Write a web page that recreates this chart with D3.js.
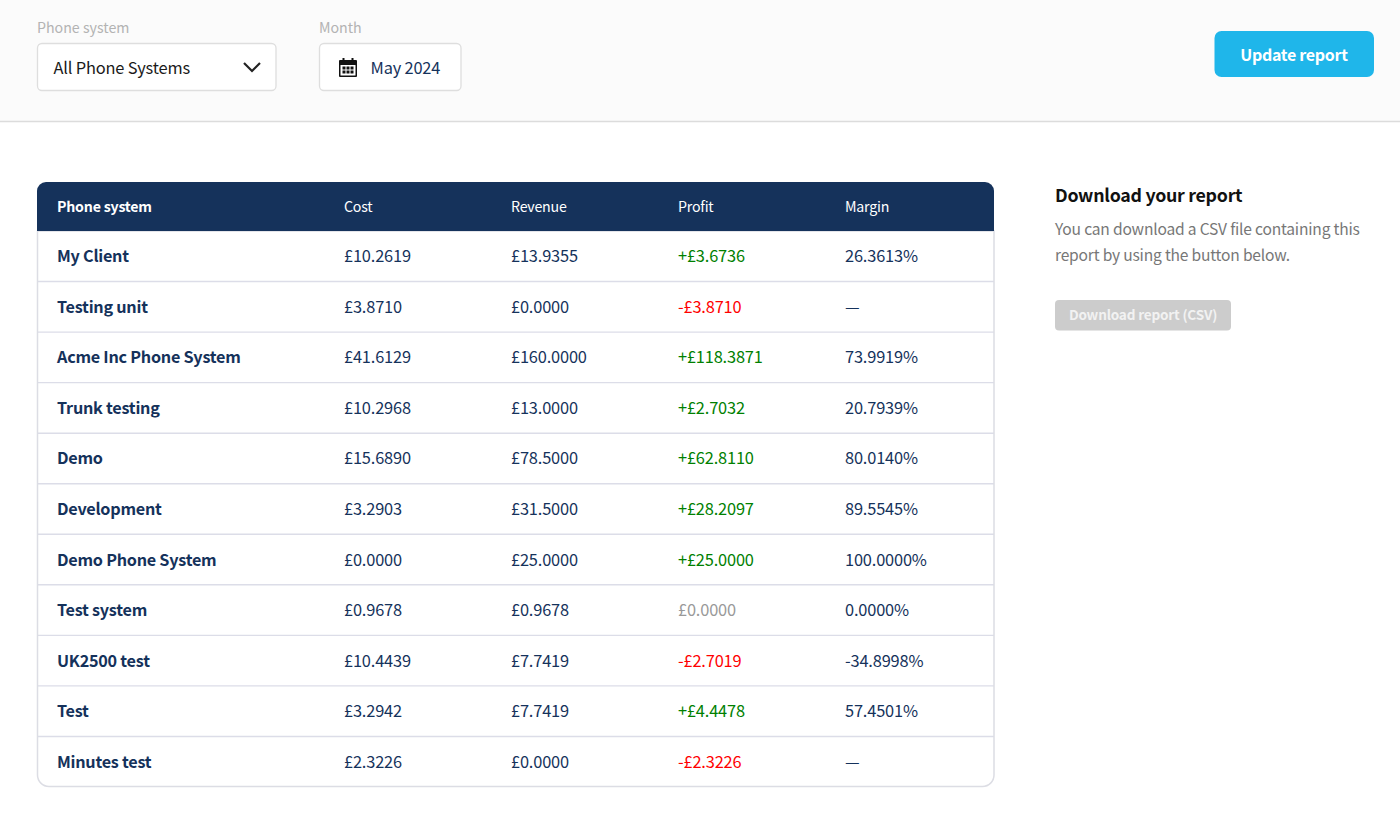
<!DOCTYPE html>
<html>
<head>
<meta charset="utf-8">
<script src="https://cdn.jsdelivr.net/npm/d3@7"></script>
<style>
  html, body { margin: 0; padding: 0; background: #fff; }
  svg { display: block; }
  text { font-family: "Noto Sans CJK SC", "Noto Sans", sans-serif; }
  .cell { font-size: 16.4px; letter-spacing: -0.18px; }
  .name { font-size: 16.2px; letter-spacing: -0.25px; font-weight: 700; }
  .head { font-size: 14.2px; letter-spacing: -0.22px; fill: #fff; }
</style>
</head>
<body>
<svg id="chart" width="1400" height="820"></svg>
<script>
// Data
const systems = ['My Client', 'Testing unit', 'Acme Inc Phone System', 'Trunk testing', 'Demo', 'Development',
  'Demo Phone System', 'Test system', 'UK2500 test', 'Test', 'Minutes test'];
const cost = [10.2619, 3.8710, 41.6129, 10.2968, 15.6890, 3.2903, 0, 0.9678, 10.4439, 3.2942, 2.3226];
const revenue = [13.9355, 0, 160, 13, 78.5, 31.5, 25, 0.9678, 7.7419, 7.7419, 0];
const profit = [3.6736, -3.8710, 118.3871, 2.7032, 62.8110, 28.2097, 25, 0, -2.7019, 4.4478, -2.3226];
const margin = [26.3613, null, 73.9919, 20.7939, 80.0140, 89.5545, 100, 0, -34.8998, 57.4501, null];
const columns = ['Phone system', 'Cost', 'Revenue', 'Profit', 'Margin'];

const navy = '#15325b';
const svg = d3.select('#chart');

const y = d3.scaleBand().domain(d3.range(systems.length)).range([231, 787]);
const x = d3.scaleOrdinal().domain(columns).range([57, 344, 511, 678, 845]);

const fmt = d3.formatLocale({ decimal: '.', thousands: ',', grouping: [3], currency: ['£', ''], minus: '-' }).format('.4f');
const money = v => '£' + fmt(Math.abs(v));
const signedMoney = v => v > 0 ? '+' + money(v) : v < 0 ? '-' + money(v) : money(v);
const percent = v => v === null ? '—' : fmt(v) + '%';
const profitColor = v => v > 0 ? '#008000' : v < 0 ? '#ff0000' : '#999999';

// top bar
svg.append('rect').attr('width', 1400).attr('height', 121.5).attr('fill', '#fbfbfb');
svg.append('line').attr('x1', 0).attr('x2', 1400).attr('y1', 121.5).attr('y2', 121.5)
  .attr('stroke', '#dcdcdc').attr('stroke-width', 1.4);

function label(txt, lx) {
  svg.append('text').attr('x', lx).attr('y', 32.5).attr('font-size', 14.2).attr('fill', '#b3b3b3').text(txt);
}
label('Phone system', 37);
label('Month', 319);

function inputBox(bx, w) {
  svg.append('rect').attr('x', bx + .5).attr('y', 43.5).attr('width', w).attr('height', 47).attr('rx', 4.5)
    .attr('fill', '#fff').attr('stroke', '#dedede').attr('stroke-width', 1.3);
}
inputBox(37, 238.5);
inputBox(319, 141.5);

svg.append('text').attr('class', 'cell').attr('x', 53.5).attr('y', 73.5).attr('fill', '#1a1a1a').text('All Phone Systems');
svg.append('path').attr('d', 'M244 63l8 8 8-8').attr('fill', 'none').attr('stroke', '#222').attr('stroke-width', 2.2);

// calendar icon
const cal = svg.append('g').attr('transform', 'translate(339,58)');
cal.append('rect').attr('x', 0).attr('y', 2).attr('width', 18).attr('height', 17).attr('fill', '#111').attr('rx', 1);
cal.append('rect').attr('x', 1.5).attr('y', 7).attr('width', 15).attr('height', 10.5).attr('fill', '#fff');
cal.selectAll('rect.tab').data([3.5, 12.5]).join('rect').attr('class', 'tab')
  .attr('x', d => d).attr('y', 0).attr('width', 2).attr('height', 4).attr('fill', '#111');
[0, 1].forEach(r => [0, 1, 2].forEach(c => {
  cal.append('rect').attr('x', 3.5 + c * 4).attr('y', 8.5 + r * 4).attr('width', 3).attr('height', 3).attr('fill', '#111');
}));
svg.append('text').attr('class', 'cell').attr('x', 370.5).attr('y', 73.5).attr('fill', navy).text('May 2024');

// update button
svg.append('rect').attr('x', 1214.5).attr('y', 31).attr('width', 159.5).attr('height', 46).attr('rx', 7).attr('fill', '#1fb6ea');
svg.append('text').attr('x', 1294).attr('y', 60.5).attr('text-anchor', 'middle').attr('font-size', 16)
  .attr('letter-spacing', -0.3).attr('font-weight', 700).attr('fill', '#fff').text('Update report');

// table body
const clipPath = 'M37.5 231H994V775a11.5 11.5 0 0 1 -11.5 11.5H49a11.5 11.5 0 0 1 -11.5 -11.5Z';
svg.append('path').attr('d', clipPath).attr('fill', '#fff');
svg.append('clipPath').attr('id', 'tbl').append('path').attr('d', clipPath);

const rows = svg.selectAll('g.row').data(systems).join('g').attr('class', 'row')
  .attr('transform', (d, i) => `translate(0,${y(i)})`);

rows.append('rect').attr('x', 37).attr('width', 957).attr('height', y.bandwidth())
  .attr('clip-path', 'url(#tbl)').attr('fill', (d, i) => i % 2 ? '#fbfbfd' : '#fff');
rows.filter((d, i) => i < systems.length - 1).append('line')
  .attr('x1', 37).attr('x2', 994).attr('y1', y.bandwidth()).attr('y2', y.bandwidth())
  .attr('stroke', '#dcdde8').attr('stroke-width', 1.4);

const rowY = y.bandwidth() / 2 + 6;
rows.append('text').attr('class', 'name').attr('x', x('Phone system')).attr('y', rowY)
  .attr('fill', navy).text(d => d);
rows.append('text').attr('class', 'cell').attr('x', x('Cost')).attr('y', rowY).attr('fill', navy)
  .text((d, i) => money(cost[i]));
rows.append('text').attr('class', 'cell').attr('x', x('Revenue')).attr('y', rowY).attr('fill', navy)
  .text((d, i) => money(revenue[i]));
rows.append('text').attr('class', 'cell').attr('x', x('Profit')).attr('y', rowY)
  .attr('fill', (d, i) => profitColor(profit[i])).text((d, i) => signedMoney(profit[i]));
rows.append('text').attr('class', 'cell').attr('x', x('Margin')).attr('y', rowY).attr('fill', navy)
  .text((d, i) => percent(margin[i]));

svg.append('path').attr('d', clipPath).attr('fill', 'none').attr('stroke', '#dcdde4').attr('stroke-width', 1.5);

// header
svg.append('path').attr('d', 'M37 231V191a9 9 0 0 1 9 -9H985a9 9 0 0 1 9 9V231Z').attr('fill', navy);
svg.selectAll('text.head').data(columns).join('text').attr('class', 'head')
  .attr('x', d => x(d)).attr('y', 211.5)
  .attr('font-weight', (d, i) => i ? 400 : 700).text(d => d);

// download panel
svg.append('text').attr('x', 1055).attr('y', 201.5).attr('font-size', 17.8).attr('letter-spacing', -0.28)
  .attr('font-weight', 700).attr('fill', '#111').text('Download your report');
svg.append('text').attr('x', 1055).attr('y', 235).attr('font-size', 15.6).attr('letter-spacing', -0.2)
  .attr('fill', '#777').text('You can download a CSV file containing this');
svg.append('text').attr('x', 1055).attr('y', 260.5).attr('font-size', 15.6).attr('letter-spacing', -0.2)
  .attr('fill', '#777').text('report by using the button below.');
svg.append('rect').attr('x', 1055).attr('y', 300).attr('width', 176).attr('height', 30.5).attr('rx', 4).attr('fill', '#cccccc');
svg.append('text').attr('x', 1143).attr('y', 320).attr('text-anchor', 'middle').attr('font-size', 13.6)
  .attr('letter-spacing', -0.2).attr('font-weight', 700).attr('fill', '#f2f2f2').text('Download report (CSV)');
</script>
</body>
</html>
